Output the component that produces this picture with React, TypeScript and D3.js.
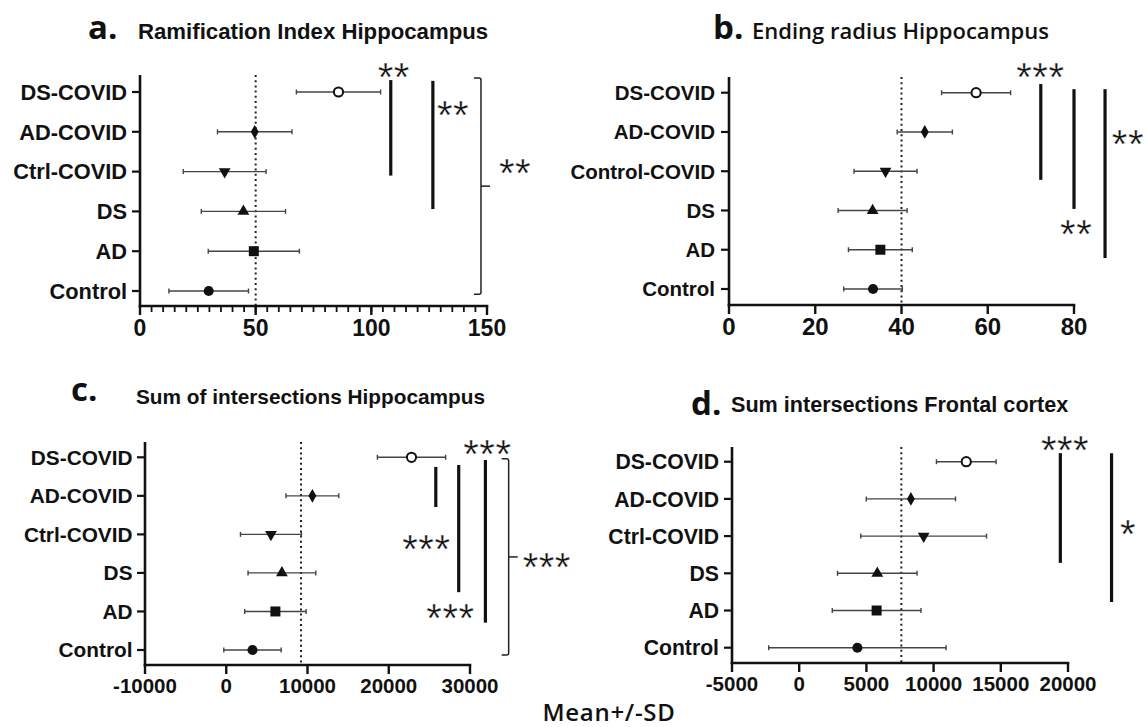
import React from 'react'
import * as d3 from 'd3'

// groups, top row first
const groupsShort = ['DS-COVID', 'AD-COVID', 'Ctrl-COVID', 'DS', 'AD', 'Control']
const groupsLong = ['DS-COVID', 'AD-COVID', 'Control-COVID', 'DS', 'AD', 'Control']
const markerKinds = ['openCircle', 'diamond', 'triDown', 'triUp', 'square', 'circle']

// a. Ramification Index Hippocampus
const meanA = [85.8, 49.6, 36.6, 44.7, 49.2, 29.7]
const sdA = [18.2, 16.1, 17.9, 18.2, 19.7, 17.2]
// b. Ending radius Hippocampus
const meanB = [57.3, 45.4, 36.3, 33.3, 35.1, 33.4]
const sdB = [8.0, 6.4, 7.3, 8.0, 7.4, 6.8]
// c. Sum of intersections Hippocampus
const meanC = [22800, 10600, 5500, 6850, 6050, 3230]
const sdC = [4200, 3250, 3750, 4170, 3780, 3530]
// d. Sum intersections Frontal cortex
const meanD = [12430, 8310, 9260, 5810, 5760, 4330]
const sdD = [2220, 3320, 4680, 2960, 3300, 6600]

const ticksA = [0, 50, 100, 150]
const ticksB = [0, 20, 40, 60, 80]
const ticksC = [-10000, 0, 10000, 20000, 30000]
const ticksD = [-5000, 0, 5000, 10000, 15000, 20000]

// significance marks: x in data units, r0/r1 in row units (0 = top row)
const barsA = [{ x: 108.4, r0: -0.3, r1: 2.1 }, { x: 126.6, r0: -0.28, r1: 2.94 }]
const bracketsA = [{ x: 147.4, r0: -0.35, r1: 5.08 }]
const starsA = [{ x: 109.7, r: -0.6, t: '**' }, { x: 135.3, r: 0.35, t: '**' }, { x: 162.1, r: 1.81, t: '**' }]

const barsB = [{ x: 72.3, r0: -0.22, r1: 2.22 }, { x: 80, r0: -0.09, r1: 2.96 }, { x: 87.2, r0: -0.09, r1: 4.21 }]
const starsB = [{ x: 72.2, r: -0.63, t: '***' }, { x: 80.5, r: 3.37, t: '**' }, { x: 92.5, r: 1.08, t: '**' }]

const barsC = [{ x: 25790, r0: 0.25, r1: 1.29 }, { x: 28610, r0: 0.2, r1: 3.5 }, { x: 31895, r0: 0.07, r1: 4.29 }]
const bracketsC = [{ x: 34760, r0: 0.04, r1: 5.13 }]
const starsC = [
  { x: 32140, r: -0.32, t: '***' },
  { x: 24630, r: 2.15, t: '***' },
  { x: 27590, r: 3.94, t: '***' },
  { x: 39450, r: 2.61, t: '***' },
]

const barsD = [{ x: 19430, r0: -0.23, r1: 2.72 }, { x: 23240, r0: -0.23, r1: 3.77 }]
const starsD = [{ x: 19780, r: -0.56, t: '***' }, { x: 24460, r: 1.7, t: '*' }]

const ARIAL = 'Liberation Sans, Arial, sans-serif'
const ROUND = 'Open Sans, Noto Sans, sans-serif'

function Marker({ kind, x, y }: { kind: string; x: number; y: number }) {
  if (kind === 'openCircle') return <circle cx={x} cy={y} r={4.6} fill="#fff" stroke="#111" strokeWidth={2} />
  const sym =
    kind === 'diamond' ? d3.symbolDiamond : kind === 'square' ? d3.symbolSquare : kind === 'circle' ? d3.symbolCircle : d3.symbolTriangle
  const size = kind === 'diamond' ? 55 : kind === 'square' ? 100 : kind === 'circle' ? 80 : 60
  const rot = kind === 'triDown' ? 180 : 0
  return <path d={d3.symbol(sym, size)() as string} transform={`translate(${x},${y}) rotate(${rot})`} fill="#111" />
}

interface PanelProps {
  letter: string
  title: string
  titleFont: string
  titleSize: number
  titleWeight: number
  letterX: number
  letterY: number
  titleX: number
  titleY: number
  groups: string[]
  labelSize: number
  tickSize: number
  means: number[]
  sds: number[]
  domain: [number, number]
  ticks: number[]
  minorStep?: number
  refValue: number
  x0: number
  x1: number
  rowTop: number
  rowBottom: number
  axisTop: number
  axisY: number
  labelGap: number
  bars: { x: number; r0: number; r1: number }[]
  brackets: { x: number; r0: number; r1: number }[]
  stars: { x: number; r: number; t: string }[]
}

function Panel(p: PanelProps) {
  const x = d3.scaleLinear().domain(p.domain).range([p.x0, p.x1])
  const row = d3.scaleLinear().domain([0, p.groups.length - 1]).range([p.rowTop, p.rowBottom])
  const minor = p.minorStep ? d3.range(p.domain[0], p.domain[1] + 0.001, p.minorStep) : []
  const starSize = 40
  return (
    <g>
      <text x={p.letterX} y={p.letterY} fontFamily={ROUND} fontWeight={700} fontSize={33} fill="#111">
        {p.letter}
      </text>
      <text x={p.titleX} y={p.titleY} fontFamily={p.titleFont} fontWeight={p.titleWeight} fontSize={p.titleSize} fill="#111">
        {p.title}
      </text>

      {/* reference line */}
      <line
        x1={x(p.refValue)}
        x2={x(p.refValue)}
        y1={p.axisTop}
        y2={p.axisY}
        stroke="#222"
        strokeWidth={2}
        strokeDasharray="2,3.2"
      />

      {/* error bars and markers */}
      {p.groups.map((g, i) => {
        const y = row(i)
        const lo = x(p.means[i] - p.sds[i])
        const hi = x(p.means[i] + p.sds[i])
        return (
          <g key={g}>
            <line x1={lo} x2={hi} y1={y} y2={y} stroke="#444" strokeWidth={1.4} />
            <line x1={lo} x2={lo} y1={y - 2.5} y2={y + 2.5} stroke="#444" strokeWidth={1.4} />
            <line x1={hi} x2={hi} y1={y - 2.5} y2={y + 2.5} stroke="#444" strokeWidth={1.4} />
            <Marker kind={markerKinds[i]} x={x(p.means[i])} y={y} />
          </g>
        )
      })}

      {/* y axis */}
      <line x1={p.x0} x2={p.x0} y1={p.axisTop} y2={p.axisY + 1.2} stroke="#111" strokeWidth={2.6} />
      {p.groups.map((g, i) => (
        <g key={g}>
          <line x1={p.x0 - 8} x2={p.x0} y1={row(i)} y2={row(i)} stroke="#111" strokeWidth={2.2} />
          <text
            x={p.x0 - p.labelGap}
            y={row(i)}
            dy="0.36em"
            textAnchor="end"
            fontFamily={ARIAL}
            fontWeight={700}
            fontSize={p.labelSize}
            fill="#111"
          >
            {g}
          </text>
        </g>
      ))}

      {/* x axis */}
      <line x1={p.x0 - 1.3} x2={p.x1 + 1.3} y1={p.axisY} y2={p.axisY} stroke="#111" strokeWidth={2.6} />
      {minor.map((v) => (
        <line key={'m' + v} x1={x(v)} x2={x(v)} y1={p.axisY} y2={p.axisY + 6} stroke="#111" strokeWidth={1.8} />
      ))}
      {p.ticks.map((v) => (
        <g key={v}>
          <line x1={x(v)} x2={x(v)} y1={p.axisY} y2={p.axisY + 9} stroke="#111" strokeWidth={2.4} />
          <text
            x={x(v)}
            y={p.axisY + 13 + p.tickSize * 0.72}
            textAnchor="middle"
            fontFamily={ARIAL}
            fontWeight={700}
            fontSize={p.tickSize}
            fill="#111"
          >
            {v}
          </text>
        </g>
      ))}

      {/* significance bars */}
      {p.bars.map((b, i) => (
        <line key={'b' + i} x1={x(b.x)} x2={x(b.x)} y1={row(b.r0)} y2={row(b.r1)} stroke="#111" strokeWidth={3.2} />
      ))}
      {p.brackets.map((b, i) => {
        const bx = x(b.x)
        const y0 = row(b.r0)
        const y1 = row(b.r1)
        const ym = (y0 + y1) / 2
        return (
          <g key={'k' + i} fill="none" stroke="#222" strokeWidth={1.5}>
            <path d={`M${bx - 7},${y0} L${bx - 2},${y0} Q${bx},${y0} ${bx},${y0 + 2} L${bx},${y1 - 2} Q${bx},${y1} ${bx - 2},${y1} L${bx - 7},${y1}`} />
            <line x1={bx} x2={bx + 9} y1={ym} y2={ym} />
          </g>
        )
      })}
      {p.stars.map((s, i) => (
        <text
          key={'s' + i}
          x={x(s.x)}
          y={row(s.r) + starSize * 0.58}
          textAnchor="middle"
          fontFamily={ARIAL}
          fontSize={starSize}
          fill="#111"
          stroke="#fff"
          strokeWidth={0.35}
          letterSpacing={0.5}
        >
          {s.t}
        </text>
      ))}
    </g>
  )
}

export default function App() {
  return (
    <svg width={1147} height={727} style={{ position: 'absolute', left: 0, top: 0, background: '#fff' }}>
      <rect width={1147} height={727} fill="#fff" />
      <Panel
        letter="a."
        title="Ramification Index Hippocampus"
        titleFont={ARIAL}
        titleSize={22.2}
        titleWeight={700}
        letterX={88}
        letterY={39}
        titleX={138}
        titleY={39}
        groups={groupsShort}
        labelSize={21.8}
        tickSize={23}
        means={meanA}
        sds={sdA}
        domain={[0, 150]}
        ticks={ticksA}
        minorStep={5}
        refValue={50}
        x0={140}
        x1={487}
        rowTop={92}
        rowBottom={291}
        axisTop={75}
        axisY={306}
        labelGap={13}
        bars={barsA}
        brackets={bracketsA}
        stars={starsA}
      />
      <Panel
        letter="b."
        title="Ending radius Hippocampus"
        titleFont={ROUND}
        titleSize={22}
        titleWeight={600}
        letterX={713}
        letterY={39}
        titleX={752}
        titleY={39}
        groups={groupsLong}
        labelSize={20.5}
        tickSize={24}
        means={meanB}
        sds={sdB}
        domain={[0, 80]}
        ticks={ticksB}
        refValue={40}
        x0={729}
        x1={1074}
        rowTop={92.7}
        rowBottom={289}
        axisTop={77}
        axisY={305}
        labelGap={14}
        bars={barsB}
        brackets={[]}
        stars={starsB}
      />
      <Panel
        letter="c."
        title="Sum of intersections Hippocampus"
        titleFont={ARIAL}
        titleSize={20.8}
        titleWeight={700}
        letterX={71}
        letterY={401}
        titleX={136}
        titleY={404}
        groups={groupsShort}
        labelSize={20.8}
        tickSize={20.5}
        means={meanC}
        sds={sdC}
        domain={[-10000, 30000]}
        ticks={ticksC}
        refValue={9200}
        x0={145}
        x1={470}
        rowTop={457.3}
        rowBottom={650}
        axisTop={442}
        axisY={665}
        labelGap={12.5}
        bars={barsC}
        brackets={bracketsC}
        stars={starsC}
      />
      <Panel
        letter="d."
        title="Sum intersections Frontal cortex"
        titleFont={ARIAL}
        titleSize={21.6}
        titleWeight={700}
        letterX={691}
        letterY={415}
        titleX={731}
        titleY={412}
        groups={groupsShort}
        labelSize={21.2}
        tickSize={20.5}
        means={meanD}
        sds={sdD}
        domain={[-5000, 20000]}
        ticks={ticksD}
        refValue={7600}
        x0={732}
        x1={1068}
        rowTop={461.7}
        rowBottom={647.7}
        axisTop={447}
        axisY={663}
        labelGap={13}
        bars={barsD}
        brackets={[]}
        stars={starsD}
      />
      <text x={609} y={721} textAnchor="middle" fontFamily={ROUND} fontWeight={600} fontSize={24} letterSpacing={0.7} fill="#111">
        Mean+/-SD
      </text>
    </svg>
  )
}
